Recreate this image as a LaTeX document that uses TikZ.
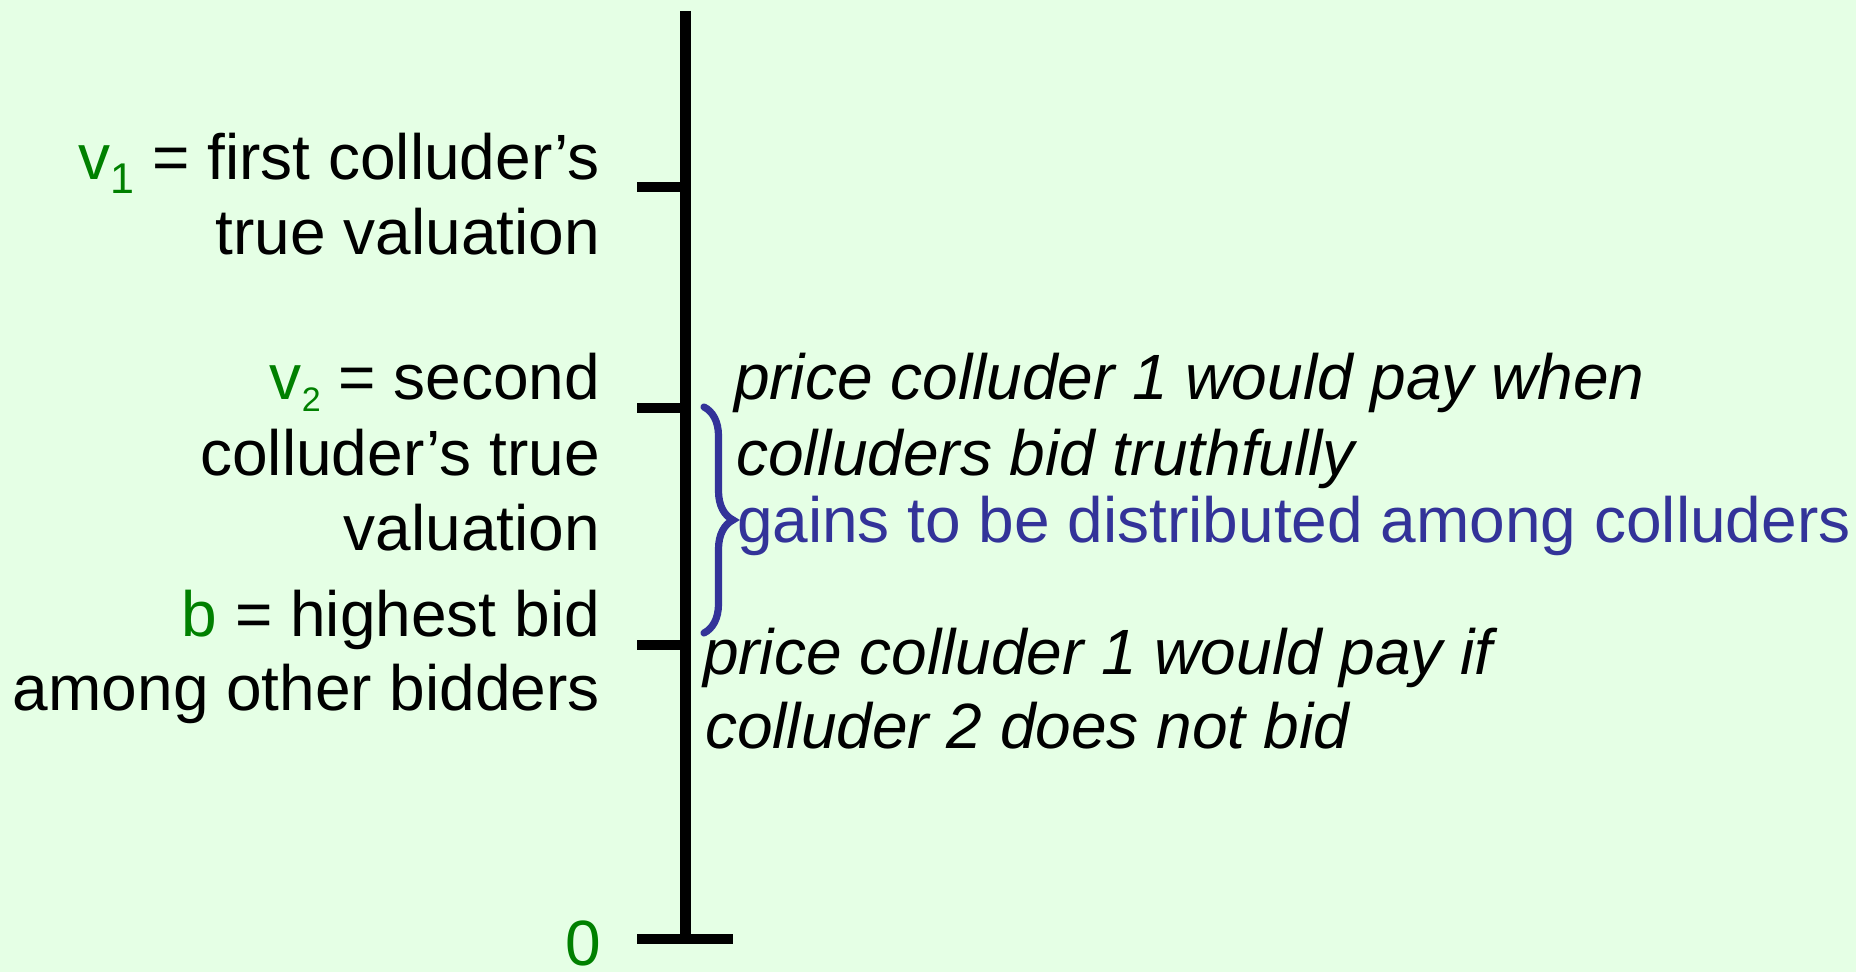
\documentclass[tikz,border=0pt]{standalone}
\usepackage{fontspec}
\setmainfont{Liberation Sans}
\usetikzlibrary{decorations.pathreplacing}
\definecolor{bg}{RGB}{229,255,229}
\definecolor{lgreen}{RGB}{0,128,0}
\definecolor{lblue}{RGB}{51,51,153}
\newcommand\mysubsc[3]{\raisebox{-#2}{\fontsize{#1}{#1}\selectfont #3}}
\begin{document}
\begin{tikzpicture}[x=0.5pt,y=-0.5pt,
  lbl/.style={inner sep=0pt, outer sep=0pt, font=\fontsize{32}{37.5}\selectfont, anchor=base east},
  rlbl/.style={inner sep=0pt, outer sep=0pt, font=\fontsize{32}{37.5}\selectfont\itshape, anchor=base west},
  axisline/.style={line width=5.5pt, black, line cap=butt},
  ticklinestyle/.style={line width=5.2pt, black, line cap=butt},
  bracestyle/.style={draw=lblue, line width=3.6pt, line cap=round, decorate, decoration={brace, amplitude=14.5pt}}
]
\fill[bg] (0,0) rectangle (1856,972);
\useasboundingbox (0,0) rectangle (1856,972);

% axis and ticks
\coordinate (top) at (685,11);
\coordinate (bot) at (685,944);
\draw[axisline] (top) -- (bot);
\coordinate (t1a) at (637,187); \coordinate (t1b) at (685,187);
\coordinate (t2a) at (637,408); \coordinate (t2b) at (685,408);
\coordinate (t3a) at (637,645); \coordinate (t3b) at (685,645);
\coordinate (t0a) at (637,939); \coordinate (t0b) at (733,939);
\draw[ticklinestyle] (t1a) -- (t1b);
\draw[ticklinestyle] (t2a) -- (t2b);
\draw[ticklinestyle] (t3a) -- (t3b);
\draw[ticklinestyle] (t0a) -- (t0b);

% left labels
\node[lbl] (v1a) at (600,180) {\textcolor{lgreen}{v\mysubsc{21.5}{7pt}{1}} = first colluder’s};
\node[lbl] (v1b) at (600,255) {true valuation};
\node[lbl] (v2a) at (600,400) {\textcolor{lgreen}{v\mysubsc{17}{6pt}{2}} = second};
\node[lbl] (v2b) at (600,475) {colluder’s true};
\node[lbl] (v2c) at (600,550) {valuation};
\node[lbl] (ba) at (600,636) {\textcolor{lgreen}{b} = highest bid};
\node[lbl] (bb) at (600,710) {among other bidders};
\node[lbl, text=lgreen] (zero) at (601,965) {0};

% right labels
\node[rlbl] (p1a) at (734,400) {price colluder 1 would pay when};
\node[rlbl] (p1b) at (736,475) {colluders bid truthfully};
\node[rlbl, font=\fontsize{32}{37.5}\selectfont, text=lblue] (gain) at (737,542) {gains to be distributed among colluders};
\node[rlbl] (p2a) at (703,674) {price colluder 1 would pay if};
\node[rlbl] (p2b) at (705,748) {colluder 2 does not bid};

% brace
\coordinate (br1) at (704,407);
\coordinate (br2) at (704,633);
\draw[bracestyle] (br1) -- (br2);
\end{tikzpicture}
\end{document}
